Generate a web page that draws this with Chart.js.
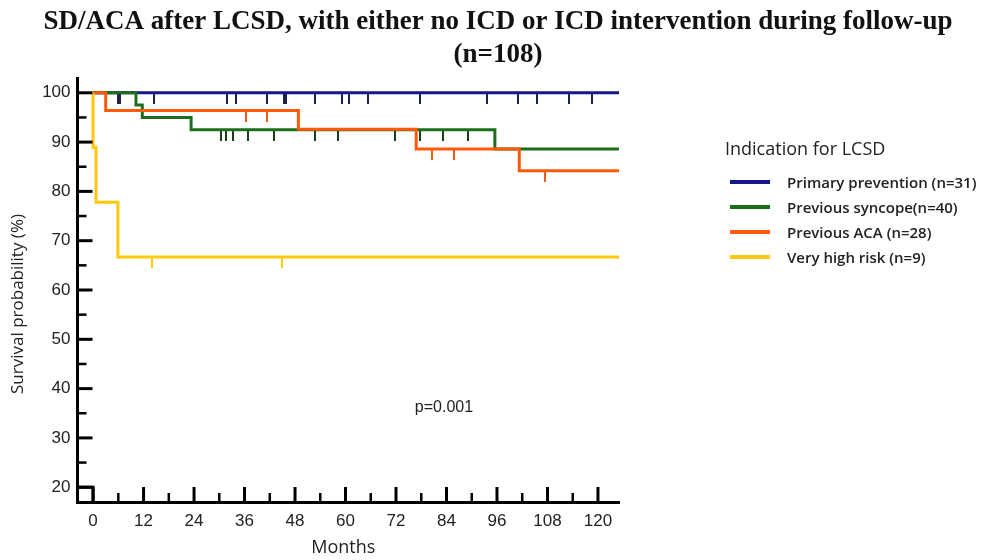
<!DOCTYPE html>
<html><head><meta charset="utf-8">
<script src="https://cdn.jsdelivr.net/npm/chart.js@4.4.1/dist/chart.umd.min.js"></script>
<style>
html,body{margin:0;padding:0;background:#fff;}
#wrap{position:relative;width:990px;height:560px;overflow:hidden;}
canvas{position:absolute;left:0;top:0;}
#legend{position:absolute;left:725px;top:136px;font-family:'Open Sans',Lato,sans-serif;color:#222;}
#legend .lt{font-size:18px;line-height:24px;height:24px;white-space:nowrap;}
#legend .items{margin-top:9px;}
#legend .row{display:flex;align-items:center;height:25px;white-space:nowrap;}
#legend .sw{width:40px;height:4px;margin-left:5px;margin-right:17px;}
#legend .tx{font-size:15px;font-weight:600;}
</style></head><body>
<div id="wrap"><canvas id="c" width="990" height="560"></canvas><div id="legend"></div></div>
<script>
// ---- data ----
const chartTitle = ['SD/ACA after LCSD, with either no ICD or ICD intervention during follow-up', '(n=108)'];
const legendTitle = 'Indication for LCSD';
const xAxisTitle = 'Months';
const yAxisTitle = 'Survival probability (%)';
const seriesNames = ['Primary prevention (n=31)', 'Previous syncope(n=40)', 'Previous ACA (n=28)', 'Very high risk (n=9)'];
const seriesColors = ['#16168c', '#1c6e1c', '#ff5a0a', '#ffc80a'];
const censorColors = ['#1e2050', '#1a3f1a', '#f05a14', '#ffc80a'];

const primaryMonths = [0, 125];
const primaryValues = [100, 100];
const primaryCensored = [6.0, 6.5, 14.5, 31.9, 34.0, 41.4, 45.3, 45.9, 52.8, 59.1, 60.9, 65.4, 77.7, 93.6, 100.9, 105.4, 113.1, 118.6];

const syncopeMonths = [0, 10.2, 11.7, 23.3, 95.5, 125];
const syncopeValues = [100, 97.5, 95.0, 92.5, 88.6, 88.6];
const syncopeCensored = [30.3, 31.6, 33.3, 36.8, 43.1, 52.7, 58.1, 71.7, 77.7, 83.2, 89.0];

const acaMonths = [0, 3.0, 48.8, 76.8, 101.3, 125];
const acaValues = [100, 96.4, 92.6, 88.6, 84.2, 84.2];
const acaCensored = [36.3, 41.4, 80.5, 85.9, 107.4];

const highRiskMonths = [0, 0, 0.7, 5.9, 125];
const highRiskValues = [100, 88.9, 77.8, 66.7, 66.7];
const highRiskCensored = [14.1, 44.8];

const xTickLabels = [0, 12, 24, 36, 48, 60, 72, 84, 96, 108, 120];
const xMinorTicks = [6, 18, 30, 42, 54, 66, 78, 90, 102, 114];
const yTickLabels = [20, 30, 40, 50, 60, 70, 80, 90, 100];
const yMinorTicks = [25, 35, 45, 55, 65, 75, 85, 95];
const pValueText = 'p=0.001';
const pValuePos = [83.4, 36.2];
const cornerMonths = [-3.7, 0, 0];
const cornerValues = [20, 20, 17];

// ---- build ----
const curves = [
  [primaryMonths, primaryValues, primaryCensored],
  [syncopeMonths, syncopeValues, syncopeCensored],
  [acaMonths, acaValues, acaCensored],
  [highRiskMonths, highRiskValues, highRiskCensored]
];
function pts(m, v) { return m.map((t, i) => ({x: t, y: v[i]})); }
function valueAt(m, v, t) { let r = v[0]; for (let i = 0; i < m.length; i++) if (m[i] <= t) r = v[i]; return r; }
function tickImage(color) {
  const c = document.createElement('canvas');
  c.width = 2; c.height = 22;
  const g = c.getContext('2d');
  g.fillStyle = color; g.fillRect(0, 11, 2, 11);
  return c;
}

const lineSets = [];
const censorSets = [];
// top-most first: high risk, ACA, syncope, primary
[3, 2, 1, 0].forEach(k => {
  const [m, v, cz] = curves[k];
  lineSets.push({
    type: 'line', label: seriesNames[k], data: pts(m, v), stepped: true,
    borderColor: seriesColors[k], borderWidth: 3, pointRadius: 0, fill: false, borderCapStyle: 'butt'
  });
  censorSets.push({
    type: 'scatter', label: seriesNames[k] + ' censored',
    data: cz.map(t => ({x: t, y: valueAt(m, v, t)})),
    pointStyle: tickImage(censorColors[k]), pointRadius: 6, showLine: false
  });
});
const cornerSet = {
  type: 'line', label: 'corner', data: pts(cornerMonths, cornerValues), stepped: false,
  borderColor: '#000', borderWidth: 3, pointRadius: 0, fill: false
};

const axisMarks = {
  id: 'axisMarks',
  afterDraw(chart) {
    const {ctx, chartArea: a, scales: {x, y}} = chart;
    ctx.save();
    ctx.strokeStyle = '#000';
    ctx.lineCap = 'butt';
    const L = a.left, B = a.bottom;
    ctx.lineWidth = 3;
    yTickLabels.forEach(v => { const py = y.getPixelForValue(v); ctx.beginPath(); ctx.moveTo(L, py); ctx.lineTo(L + 15, py); ctx.stroke(); });
    xTickLabels.forEach(v => { const px = x.getPixelForValue(v); ctx.beginPath(); ctx.moveTo(px, B); ctx.lineTo(px, B - 15); ctx.stroke(); });
    ctx.lineWidth = 2.5;
    yMinorTicks.forEach(v => { const py = y.getPixelForValue(v); ctx.beginPath(); ctx.moveTo(L, py); ctx.lineTo(L + 9, py); ctx.stroke(); });
    xMinorTicks.forEach(v => { const px = x.getPixelForValue(v); ctx.beginPath(); ctx.moveTo(px, B); ctx.lineTo(px, B - 9); ctx.stroke(); });
    // p value
    ctx.fillStyle = '#222';
    ctx.font = '16px "Liberation Sans", Arial, sans-serif';
    ctx.textAlign = 'center'; ctx.textBaseline = 'middle';
    ctx.fillText(pValueText, x.getPixelForValue(pValuePos[0]), y.getPixelForValue(pValuePos[1]));
    // main title, centred on the whole figure
    ctx.fillStyle = '#111';
    ctx.font = 'bold 27px "Liberation Serif", "Times New Roman", serif';
    ctx.fillText(chartTitle[0], chart.width / 2 + 3, 22);
    ctx.fillText(chartTitle[1], chart.width / 2 + 3, 55);
    // axis titles
    ctx.fillStyle = '#222';
    ctx.font = '18px "Open Sans", Lato, sans-serif';
    ctx.fillText(xAxisTitle, (a.left + a.right) / 2 - 5, 548);
    ctx.font = '17px "Open Sans", Lato, sans-serif';
    ctx.translate(18, 304);
    ctx.rotate(-Math.PI / 2);
    ctx.fillText(yAxisTitle, 0, 0);
    ctx.restore();
  }
};

new Chart(document.getElementById('c'), {
  data: { datasets: [...lineSets, cornerSet, ...censorSets] },
  options: {
    responsive: false, animation: false, devicePixelRatio: 1, events: [],
    layout: { padding: { left: 0, right: 371, top: 78, bottom: 0 } },
    plugins: { legend: { display: false }, tooltip: { enabled: false }, title: { display: false } },
    scales: {
      x: {
        type: 'linear', min: -3.7, max: 125,
        afterBuildTicks: s => { s.ticks = xTickLabels.map(v => ({value: v})); },
        afterFit: s => { s.height = 58; },
        grid: { display: false, drawTicks: false },
        border: { display: true, color: '#000', width: 3 },
        ticks: { color: '#222', padding: 9, font: { family: '"Liberation Sans", Arial, sans-serif', size: 17 }, maxRotation: 0 },
        title: { display: false }
      },
      y: {
        type: 'linear', min: 17, max: 103,
        afterBuildTicks: s => { s.ticks = yTickLabels.map(v => ({value: v})); },
        afterFit: s => { s.width = 77.5; },
        grid: { display: false, drawTicks: false },
        border: { display: true, color: '#000', width: 3 },
        ticks: { color: '#222', padding: 7, font: { family: '"Liberation Sans", Arial, sans-serif', size: 17 } },
        title: { display: false }
      }
    }
  },
  plugins: [axisMarks]
});

// HTML legend
const lg = document.getElementById('legend');
let html = '<div class="lt">' + legendTitle + '</div><div class="items">';
seriesNames.forEach((n, i) => { html += '<div class="row"><span class="sw" style="background:' + seriesColors[i] + '"></span><span class="tx">' + n + '</span></div>'; });
html += '</div>';
lg.innerHTML = html;
</script>
</body></html>
